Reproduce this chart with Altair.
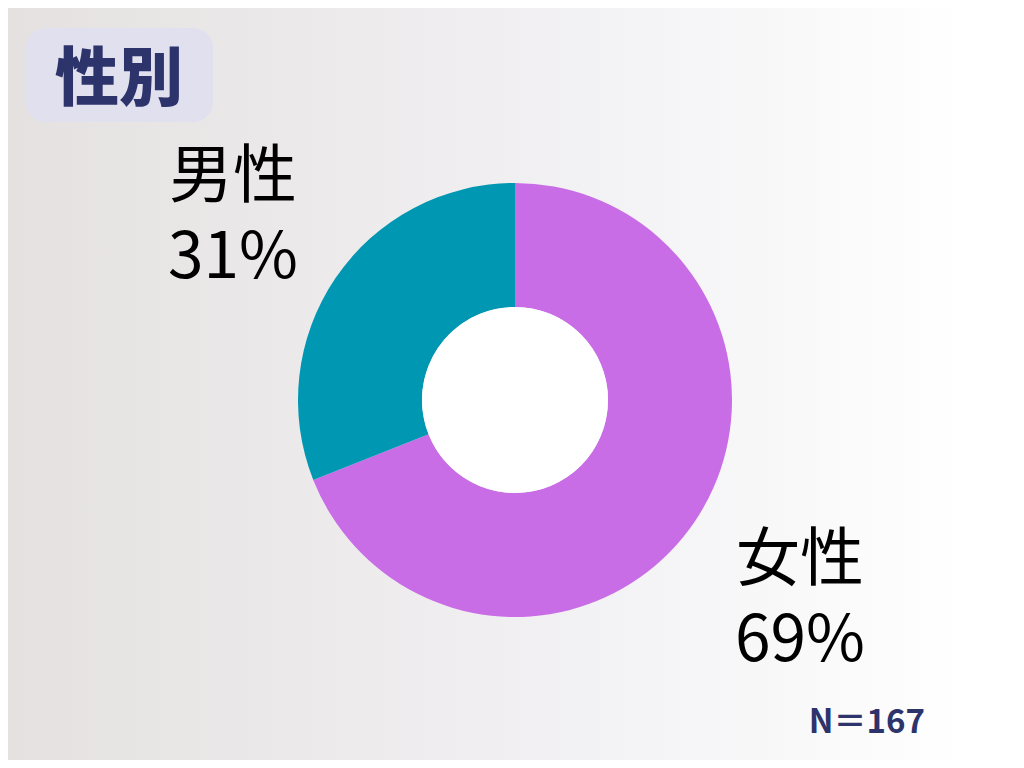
import altair as alt
import pandas as pd

categories = ["女性", "男性"]
shares = [69, 31]
colors = ["#c86de6", "#0097b2"]
title_text = "性別"
n_text = "N＝167"

W, H = 1008, 752
CX, CY = 507, 392
R_OUT, R_IN = 217, 93

df = pd.DataFrame({
    "cat": categories,
    "share": shares,
    "order": list(range(len(categories))),
})
df["label"] = df["cat"] + "\n" + df["share"].astype(str) + "%"

FONT = "Noto Sans CJK JP"

bg = alt.Chart(pd.DataFrame({"a": [0]})).mark_rect(
    fill=alt.Gradient(
        gradient="linear",
        stops=[alt.GradientStop(color="#e5e1e1", offset=0),
               alt.GradientStop(color="#f3f2f4", offset=0.6),
               alt.GradientStop(color="#ffffff", offset=0.95)],
        x1=0, x2=1, y1=0, y2=0,
    )
).encode(x=alt.value(0), x2=alt.value(W), y=alt.value(0), y2=alt.value(H))

title_box = alt.Chart(pd.DataFrame({"a": [0]})).mark_rect(
    fill="#e0e0ef", cornerRadius=20
).encode(x=alt.value(18), x2=alt.value(205), y=alt.value(20), y2=alt.value(114))

title = alt.Chart(pd.DataFrame({"t": [title_text]})).mark_text(
    font=FONT, fontSize=64, fontWeight=900, color="#2d336b",
    align="center", baseline="alphabetic"
).encode(x=alt.value(111), y=alt.value(92), text="t:N")

donut = alt.Chart(df).mark_arc(innerRadius=R_IN, outerRadius=R_OUT).encode(
    theta=alt.Theta("share:Q", stack=True),
    color=alt.Color("cat:N", scale=alt.Scale(domain=categories, range=colors), legend=None),
    order=alt.Order("order:Q"),
    x=alt.value(CX), y=alt.value(CY),
)

hole = alt.Chart(pd.DataFrame({"v": [1]})).mark_arc(
    outerRadius=R_IN, fill="#ffffff", theta=0, theta2=6.2832
).encode(x=alt.value(CX), y=alt.value(CY))

label_pos = {"男性": (225, 189), "女性": (792, 572)}
layers = []
for c in categories:
    sub = df[df["cat"] == c]
    lx, ly = label_pos[c]
    layers.append(alt.Chart(sub).mark_text(
        font=FONT, fontSize=64, color="#000000", align="center",
        baseline="alphabetic", lineBreak="\n", lineHeight=81
    ).encode(x=alt.value(lx), y=alt.value(ly), text="label:N"))

ntxt = alt.Chart(pd.DataFrame({"t": [n_text]})).mark_text(
    font=FONT, fontSize=33, fontWeight="bold", color="#2d336b",
    align="right", baseline="alphabetic"
).encode(x=alt.value(917), y=alt.value(725), text="t:N")

chart = alt.layer(bg, title_box, title, donut, hole, *layers, ntxt).properties(
    width=W, height=H, padding=0, autosize=alt.AutoSizeParams(type="none")
).configure_view(stroke=None)

chart.save("out.html", embed_options={"renderer": "svg", "actions": False})
